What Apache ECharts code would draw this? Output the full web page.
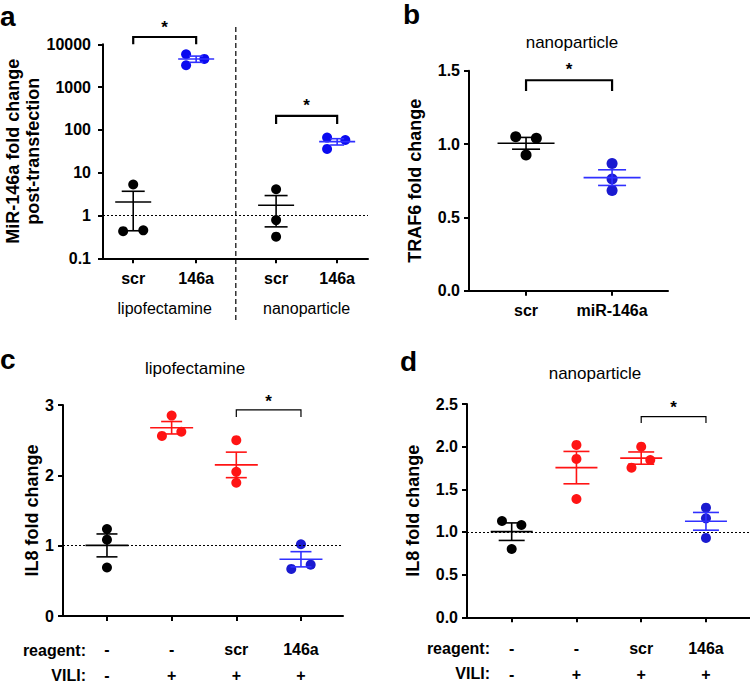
<!DOCTYPE html>
<html><head><meta charset="utf-8">
<script src="https://cdn.jsdelivr.net/npm/echarts@6/dist/echarts.min.js"></script>
<style>html,body{margin:0;padding:0;background:#fff}#c{width:750px;height:683px}</style>
</head><body><div id="c"></div>
<script>
// ---------------- data ----------------
// panel a (log scale)
const aCategories = ['scr', '146a', 'scr', '146a'];
const aReagents = ['lipofectamine', 'nanoparticle'];
const aLipoScr = [5.3, 0.43, 0.45];
const aLipo146a = [5850, 4550, 3240];
const aNanoScr = [4.1, 0.78, 0.32];
const aNano146a = [66, 58, 36];
const aTicks = [0.1, 1, 10, 100, 1000, 10000];
const aSig = [[0, 14800, 1, 10000], [2.27, 212, 3.24, 138]];

// panel b
const bCategories = ['scr', 'miR-146a'];
const bScr = [1.05, 1.04, 0.925];
const b146a = [0.868, 0.761, 0.684];
const bSig = [[0, 1.435, 1, 1.362]];

// panel c (lipofectamine)
const cdReagent = ['-', '-', 'scr', '146a'];
const cdVILI = ['-', '+', '+', '+'];
const cCtrl = [1.236, 1.085, 0.69];
const cVili = [2.85, 2.56, 2.62];
const cScr = [2.50, 2.05, 1.895];
const c146a = [1.02, 0.67, 0.73];
const cSig = [[2, 2.93, 3, 2.83]];

// panel d (nanoparticle)
const dCtrl = [1.129, 1.082, 0.80];
const dVili = [2.02, 1.856, 1.387];
const dScr = [2.0, 1.754, 1.844];
const d146a = [1.285, 1.16, 0.93];
const dSig = [[2, 2.351, 3, 2.277]];

// ---------------- layout / style ----------------
const FONT = '"Liberation Sans", Arial, Helvetica, sans-serif';
const BLACK = '#000000', RED = '#ff1414', BLUE_PT = '#1a1ad0', BLUE_LN = '#3030ff', BLUE_A = '#0a0af0';
const aGroupX = [0, 1, 2.27, 3.24];
const jitter3 = [-0.16, 0.13, -0.16];
const bJitterScr = [-0.12, 0.12, 0];

function mean(a) { return a.reduce((s, v) => s + v, 0) / a.length; }
function sem(a) {
  const m = mean(a);
  const v = a.reduce((s, x) => s + (x - m) * (x - m), 0) / (a.length - 1);
  return Math.sqrt(v / a.length);
}

function errRender(meanW, capW, color, lw) {
  return function (params, api) {
    const x = api.value(0), m = api.value(1), s = api.value(2);
    const pm = api.coord([x, m]), pu = api.coord([x, m + s]), pl = api.coord([x, m - s]);
    const st = { stroke: color, lineWidth: lw };
    return {
      type: 'group', children: [
        { type: 'line', shape: { x1: pm[0] - meanW / 2, y1: pm[1], x2: pm[0] + meanW / 2, y2: pm[1] }, style: st },
        { type: 'line', shape: { x1: pu[0], y1: pu[1], x2: pl[0], y2: pl[1] }, style: st },
        { type: 'line', shape: { x1: pu[0] - capW / 2, y1: pu[1], x2: pu[0] + capW / 2, y2: pu[1] }, style: st },
        { type: 'line', shape: { x1: pl[0] - capW / 2, y1: pl[1], x2: pl[0] + capW / 2, y2: pl[1] }, style: st }
      ]
    };
  };
}

function sigRender(lw, starGap) {
  return function (params, api) {
    const p1 = api.coord([api.value(0), api.value(3)]);
    const p2 = api.coord([api.value(0), api.value(1)]);
    const p3 = api.coord([api.value(2), api.value(1)]);
    const p4 = api.coord([api.value(2), api.value(3)]);
    return {
      type: 'group', children: [
        { type: 'polyline', shape: { points: [p1, p2, p3, p4] }, style: { stroke: '#000', lineWidth: lw, fill: 'none' } },
        { type: 'text', x: (p2[0] + p3[0]) / 2, y: p2[1] - starGap,
          style: { text: '*', fill: '#000', font: 'bold 17px ' + FONT, textAlign: 'center', textVerticalAlign: 'middle' } }
      ]
    };
  };
}

const series = [];
function addGroup(grid, x, vals, jit, ptColor, lnColor, size, meanW, capW) {
  series.push({
    type: 'scatter', xAxisIndex: grid, yAxisIndex: grid, symbolSize: size,
    itemStyle: { color: ptColor, opacity: 1 }, silent: true, z: 2,
    data: vals.map((v, i) => [x + (jit ? jit[i] : 0), v])
  });
  series.push({
    type: 'custom', xAxisIndex: grid, yAxisIndex: grid, z: 3, silent: true,
    renderItem: errRender(meanW, capW, lnColor, 1.6),
    data: [[x, mean(vals), sem(vals)]]
  });
}
function addSig(grid, data, lw, gap) {
  series.push({
    type: 'custom', xAxisIndex: grid, yAxisIndex: grid, z: 4, silent: true, clip: false,
    renderItem: sigRender(lw, gap), encode: { x: [0, 2], y: [1, 3] }, data: data
  });
}
function addRef(grid) {
  series.push({
    type: 'scatter', xAxisIndex: grid, yAxisIndex: grid, data: [], silent: true,
    markLine: { silent: true, symbol: 'none', label: { show: false },
      lineStyle: { type: [2, 2], color: '#000', width: 1.2 }, data: [{ yAxis: 1 }] }
  });
}

// panel a
addGroup(0, aGroupX[0], aLipoScr, [0, -0.16, 0.16], BLACK, BLACK, 10, 36, 23);
addGroup(0, aGroupX[1], aLipo146a, jitter3, BLUE_A, BLUE_LN, 10, 36, 14);
addGroup(0, aGroupX[2], aNanoScr, null, BLACK, BLACK, 10, 36, 23);
addGroup(0, aGroupX[3], aNano146a, jitter3, BLUE_A, BLUE_LN, 10, 36, 14);
addSig(0, aSig, 2.2, 10);
addRef(0);
// panel b
addGroup(1, 0, bScr, bJitterScr, BLACK, BLACK, 11, 57, 28);
addGroup(1, 1, b146a, null, BLUE_PT, BLUE_LN, 11, 57, 28);
addSig(1, bSig, 2.2, 11);
// panel c
addGroup(2, 0, cCtrl, null, BLACK, BLACK, 10, 43, 21);
addGroup(2, 1, cVili, [0, -0.15, 0.15], RED, RED, 10, 43, 21);
addGroup(2, 2, cScr, null, RED, RED, 10, 43, 21);
addGroup(2, 3, c146a, [0, -0.15, 0.15], BLUE_PT, BLUE_LN, 10, 43, 21);
addSig(2, cSig, 1.2, 8);
addRef(2);
// panel d
addGroup(3, 0, dCtrl, [-0.15, 0.15, 0], BLACK, BLACK, 10, 42, 26);
addGroup(3, 1, dVili, null, RED, RED, 10, 42, 26);
addGroup(3, 2, dScr, [0, -0.15, 0.14], RED, RED, 10, 42, 26);
addGroup(3, 3, d146a, null, BLUE_PT, BLUE_LN, 10, 42, 26);
addSig(3, dSig, 1.2, 9);
addRef(3);

const axLine = { show: true, onZero: false, lineStyle: { color: '#000', width: 2 } };
const axTick = { show: true, length: 5, lineStyle: { color: '#000', width: 2 } };
const tickFont = { color: '#000', fontFamily: FONT, fontWeight: 'bold', fontSize: 16 };
const nameFont = { color: '#000', fontFamily: FONT, fontWeight: 'bold', fontSize: 18 };

function xAxisFor(grid, min, max, ticks, labelFmt, labelOpts) {
  return {
    type: 'value', gridIndex: grid, position: 'bottom', min: min, max: max, splitLine: { show: false },
    axisLine: axLine,
    axisTick: Object.assign({ customValues: ticks }, axTick),
    axisLabel: Object.assign({ customValues: ticks, formatter: labelFmt, margin: 10 }, tickFont, labelOpts || {})
  };
}
function yAxisFor(grid, opts) {
  return Object.assign({
    gridIndex: grid, position: 'left', splitLine: { show: false }, axisLine: axLine, axisTick: axTick,
    nameLocation: 'middle', nameRotate: 90, nameTextStyle: nameFont
  }, opts);
}

const cdTicks = [0, 1, 2, 3];
const cdFmt = function (v) {
  const i = Math.round(v);
  return '{r|' + cdReagent[i] + '}\n{v|' + cdVILI[i] + '}';
};
const cdRich = { rich: { r: { fontFamily: FONT, fontWeight: 'bold', fontSize: 16, color: '#000', lineHeight: 26 },
                         v: { fontFamily: FONT, fontWeight: 'bold', fontSize: 16, color: '#000', lineHeight: 26 } } };

const option = {
  animation: false,
  backgroundColor: '#fff',
  grid: [
    { left: 103, top: 44.3, width: 265, height: 214 },
    { left: 469, top: 70.7, width: 199, height: 220 },
    { left: 63, top: 405, width: 280, height: 212.3 },
    { left: 467, top: 404, width: 283, height: 213.3 }
  ],
  xAxis: [
    xAxisFor(0, -0.48, 3.73, aGroupX, function (v) { return aCategories[aGroupX.indexOf(v)]; }, { margin: 12 }),
    xAxisFor(1, -0.663, 1.65, [0, 1], function (v) { return bCategories[v]; }, { margin: 12 }),
    xAxisFor(2, -0.68, 3.65, cdTicks, cdFmt, Object.assign({ margin: 20 }, cdRich)),
    xAxisFor(3, -0.69, 3.68, cdTicks, cdFmt, Object.assign({ margin: 18 }, cdRich)),
    {
      type: 'value', gridIndex: 0, position: 'bottom', min: -0.48, max: 3.73, splitLine: { show: false },
      axisLine: { show: false, onZero: false }, axisTick: { show: false },
      axisLabel: { customValues: [(aGroupX[0] + aGroupX[1]) / 2, (aGroupX[2] + aGroupX[3]) / 2],
        formatter: function (v) { return v < 1.5 ? aReagents[0] : aReagents[1]; },
        margin: 42, color: '#000', fontFamily: FONT, fontSize: 16 }
    }
  ],
  yAxis: [
    yAxisFor(0, { type: 'log', logBase: 10, min: 0.1, max: 10000,
      name: 'MiR-146a fold change\npost-transfection', nameGap: 52,
      nameTextStyle: Object.assign({ lineHeight: 20 }, nameFont),
      minorTick: { show: false },
      axisLabel: Object.assign({ margin: 12, formatter: function (v) { return String(Number(v.toPrecision(1))); } }, tickFont) }),
    yAxisFor(1, { type: 'value', min: 0, max: 1.5, interval: 0.5, name: 'TRAF6 fold change', nameGap: 45,
      axisLabel: Object.assign({ margin: 9, formatter: function (v) { return v.toFixed(1); } }, tickFont) }),
    yAxisFor(2, { type: 'value', min: 0, max: 3, interval: 1, name: 'IL8 fold change', nameGap: 17,
      axisLabel: Object.assign({ margin: 9 }, tickFont) }),
    yAxisFor(3, { type: 'value', min: 0, max: 2.5, interval: 0.5, name: 'IL8 fold change', nameGap: 45,
      axisLabel: Object.assign({ margin: 9, formatter: function (v) { return v.toFixed(1); } }, tickFont) })
  ],
  graphic: [
    { type: 'text', left: 0, top: 2, style: { text: 'a', font: 'bold 28px ' + FONT, fill: '#000' } },
    { type: 'text', left: 403, top: 0, style: { text: 'b', font: 'bold 28px ' + FONT, fill: '#000' } },
    { type: 'text', left: 0, top: 345, style: { text: 'c', font: 'bold 28px ' + FONT, fill: '#000' } },
    { type: 'text', left: 400, top: 347, style: { text: 'd', font: 'bold 28px ' + FONT, fill: '#000' } },
    { type: 'text', x: 572, y: 42, style: { text: 'nanoparticle', font: '17px ' + FONT, fill: '#000', textAlign: 'center', textVerticalAlign: 'middle' } },
    { type: 'text', x: 195, y: 368, style: { text: 'lipofectamine', font: '17px ' + FONT, fill: '#000', textAlign: 'center', textVerticalAlign: 'middle' } },
    { type: 'text', x: 595, y: 373, style: { text: 'nanoparticle', font: '17px ' + FONT, fill: '#000', textAlign: 'center', textVerticalAlign: 'middle' } },
    { type: 'text', x: 86, y: 650, style: { text: 'reagent:', font: 'bold 16px ' + FONT, fill: '#000', textAlign: 'right', textVerticalAlign: 'middle' } },
    { type: 'text', x: 86, y: 675, style: { text: 'VILI:', font: 'bold 16px ' + FONT, fill: '#000', textAlign: 'right', textVerticalAlign: 'middle' } },
    { type: 'text', x: 490, y: 648, style: { text: 'reagent:', font: 'bold 16px ' + FONT, fill: '#000', textAlign: 'right', textVerticalAlign: 'middle' } },
    { type: 'text', x: 490, y: 673, style: { text: 'VILI:', font: 'bold 16px ' + FONT, fill: '#000', textAlign: 'right', textVerticalAlign: 'middle' } }
  ],
  series: series
};

const chart = echarts.init(document.getElementById('c'), null, { renderer: 'svg' });
chart.setOption(option);
// dashed divider between the two reagents in panel a
const divX = chart.convertToPixel({ xAxisIndex: 0 }, (aGroupX[1] + aGroupX[2]) / 2 - 0.005);
option.graphic.push({ type: 'line', shape: { x1: divX, y1: 27, x2: divX, y2: 320 },
  style: { stroke: '#000', lineWidth: 1.2, lineDash: [5, 3] } });
chart.setOption({ graphic: option.graphic });
</script></body></html>
